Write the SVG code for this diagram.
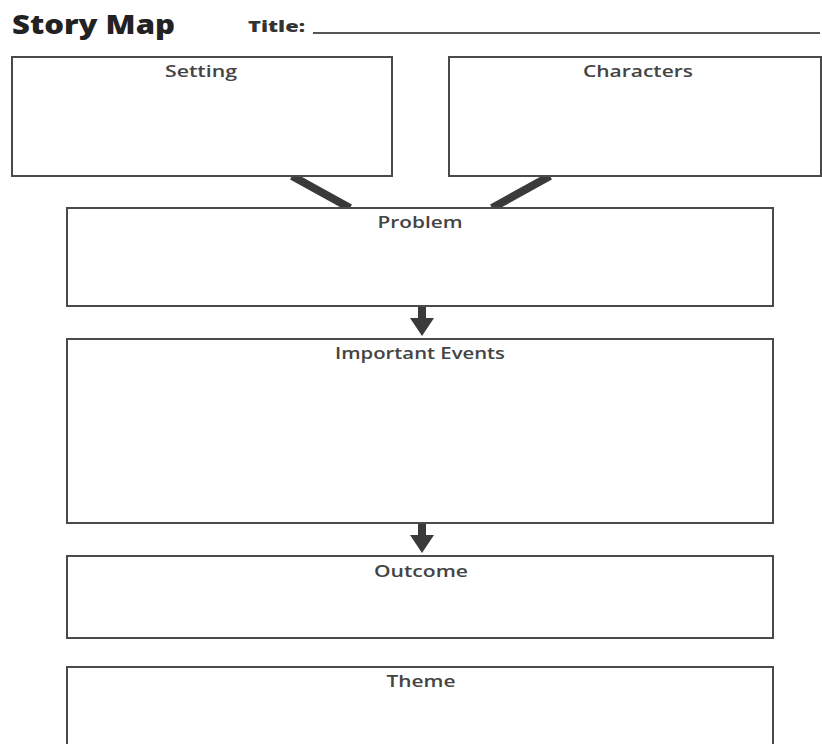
<svg xmlns="http://www.w3.org/2000/svg" width="822" height="744" viewBox="0 0 822 744">
<style>
.box{fill:#fff;stroke:#4a4a4a;stroke-width:2}
.lbl{font-family:"Open Sans","Liberation Sans",sans-serif;font-size:16px;font-weight:600;fill:#444;text-anchor:middle}
.conn{stroke:#3a3a3a;stroke-width:8;fill:none}
.arr{fill:#3a3a3a}
</style>
<rect width="822" height="744" fill="#fff"/>
<g id="header">
<text x="12" y="34" font-family="'Open Sans','Liberation Sans',sans-serif" font-size="26" font-weight="800" fill="#222" textLength="163" lengthAdjust="spacingAndGlyphs">Story Map</text>
<text x="248" y="32" font-family="'Open Sans','Liberation Sans',sans-serif" font-size="16" font-weight="800" fill="#333" textLength="57" lengthAdjust="spacingAndGlyphs">Title:</text>
<line x1="313" y1="33" x2="820" y2="33" stroke="#555" stroke-width="2"/>
</g>
<g id="connectors">
<line class="conn" x1="292" y1="176" x2="350" y2="208"/>
<line class="conn" x1="550" y1="176" x2="492" y2="208"/>
<rect class="arr" x="418" y="307" width="8" height="14"/>
<polygon class="arr" points="410,318 434,318 422,336"/>
<rect class="arr" x="418" y="524" width="8" height="14"/>
<polygon class="arr" points="410,535 434,535 422,553"/>
</g>
<g id="setting">
<rect class="box" x="12" y="57" width="380" height="119"/>
<text class="lbl" x="201" y="77" textLength="72" lengthAdjust="spacingAndGlyphs">Setting</text>
</g>
<g id="characters">
<rect class="box" x="449" y="57" width="372" height="119"/>
<text class="lbl" x="638" y="77" textLength="110" lengthAdjust="spacingAndGlyphs">Characters</text>
</g>
<g id="problem">
<rect class="box" x="67" y="208" width="706" height="98"/>
<text class="lbl" x="420" y="228" textLength="85" lengthAdjust="spacingAndGlyphs">Problem</text>
</g>
<g id="events">
<rect class="box" x="67" y="339" width="706" height="184"/>
<text class="lbl" x="420" y="359" textLength="170" lengthAdjust="spacingAndGlyphs">Important Events</text>
</g>
<g id="outcome">
<rect class="box" x="67" y="556" width="706" height="82"/>
<text class="lbl" x="421" y="577" textLength="94" lengthAdjust="spacingAndGlyphs">Outcome</text>
</g>
<g id="theme">
<rect class="box" x="67" y="667" width="706" height="100"/>
<text class="lbl" x="421" y="687" textLength="69" lengthAdjust="spacingAndGlyphs">Theme</text>
</g>
</svg>
